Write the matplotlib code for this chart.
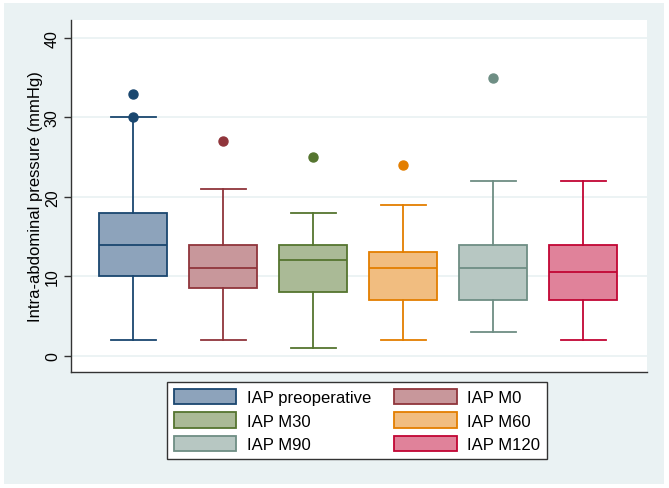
import matplotlib
matplotlib.use("Agg")
import matplotlib.pyplot as plt
from matplotlib.patches import Rectangle, Patch

plt.rcParams['font.family'] = ['Liberation Sans', 'DejaVu Sans']

labels = ["IAP preoperative", "IAP M0", "IAP M30", "IAP M60", "IAP M90", "IAP M120"]
whislo = [2, 2, 1, 2, 3, 2]
q1 = [10, 8.5, 8, 7, 7, 7]
med = [14, 11, 12, 11, 11, 10.5]
q3 = [18, 14, 14, 13, 14, 14]
whishi = [30, 21, 18, 19, 22, 22]
fliers = [[30, 33], [27], [25], [24], [35], []]

edge_colors = ["#1A476F", "#90353B", "#55752F", "#E37E00", "#6E8E84", "#C10534"]
fill_colors = ["#8DA3BB", "#C8979B", "#AABA96", "#F1BD80", "#B7C7C2", "#E0829A"]

fig = plt.figure(figsize=(6.69, 4.89), dpi=100)
fig.patch.set_facecolor("white")
fig.patches.append(Rectangle((4/669, 4/489), 660/669, 481/489, transform=fig.transFigure,
                             facecolor="#EAF2F3", edgecolor="none", zorder=-10))

ax = fig.add_axes([71/669, 1-373/489, 576/669, 352/489])
ax.set_facecolor("white")

positions = list(range(1, len(labels) + 1))
for i, pos in enumerate(positions):
    stats = [dict(med=med[i], q1=q1[i], q3=q3[i], whislo=whislo[i], whishi=whishi[i],
                  fliers=fliers[i], label=labels[i])]
    c = edge_colors[i]
    ax.bxp(stats, positions=[pos], widths=0.745, patch_artist=True, manage_ticks=False,
           boxprops=dict(facecolor=fill_colors[i], edgecolor=c, linewidth=1.3),
           medianprops=dict(color=c, linewidth=1.3),
           whiskerprops=dict(color=c, linewidth=1.3),
           capprops=dict(color=c, linewidth=1.3),
           capwidths=0.5,
           flierprops=dict(marker='o', markerfacecolor=c, markeredgecolor=c, markersize=6.5))

ax.set_xlim(0.311, 6.711)
ax.set_ylim(-2.05, 42.27)
ax.set_yticks([0, 10, 20, 30, 40])
ax.yaxis.grid(True, color="#EAF2F3", linewidth=1.3)
ax.set_axisbelow(True)
ax.set_xticks([])
for s in ["top", "right"]:
    ax.spines[s].set_visible(False)
for s in ["left", "bottom"]:
    ax.spines[s].set_color("#333333")
    ax.spines[s].set_linewidth(1.0)
ax.tick_params(axis='y', direction='out', length=5, width=1, color="#333333",
               labelsize=11.5, pad=3)
for t in ax.get_yticklabels():
    t.set_rotation(90)
    t.set_va("center")
ax.set_ylabel("Intra-abdominal pressure (mmHg)", fontsize=12, labelpad=1)

handles = [Patch(facecolor=fill_colors[i], edgecolor=edge_colors[i], linewidth=1.3, label=labels[i])
           for i in range(len(labels))]
order = [0, 2, 4, 1, 3, 5]
leg = fig.legend([handles[k] for k in order], [labels[k] for k in order], ncol=2,
                 loc="center", bbox_to_anchor=(357/669, 1-421.5/489),
                 fontsize=12, handlelength=3.75, handleheight=1.05, handletextpad=0.62,
                 columnspacing=1.4, labelspacing=0.42, borderpad=0.4, borderaxespad=0,
                 frameon=True, fancybox=False, edgecolor="#333333", framealpha=1)
leg.get_frame().set_linewidth(1.0)

fig.savefig("out.png", dpi=100, facecolor=fig.get_facecolor())
